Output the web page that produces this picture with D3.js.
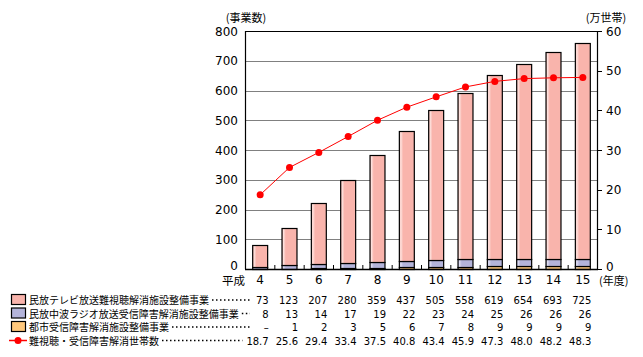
<!DOCTYPE html>
<html><head><meta charset="utf-8">
<script src="https://cdn.jsdelivr.net/npm/d3@7"></script>
<style>
body{margin:0;background:#fff;}
svg{display:block;}
text{font-family:"DejaVu Sans","Noto Sans CJK JP",sans-serif;fill:#000;}
.jp{font-family:"Noto Sans CJK JP","DejaVu Sans",sans-serif;}
</style></head>
<body>
<svg id="c" width="643" height="357"></svg>
<script>
const categories = ["4","5","6","7","8","9","10","11","12","13","14","15"];
const tvValues = [73,123,207,280,359,437,505,558,619,654,693,725];
const radioValues = [8,13,14,17,19,22,23,24,25,26,26,26];
const cityValues = [null,1,2,3,5,6,7,8,9,9,9,9];
const householdValues = [18.7,25.6,29.4,33.4,37.5,40.8,43.4,45.9,47.3,48.0,48.2,48.3];
const leftTicks = [0,100,200,300,400,500,600,700,800];
const rightTicks = [0,10,20,30,40,50,60];
const seriesNames = ["民放テレビ放送難視聴解消施設整備事業","民放中波ラジオ放送受信障害解消施設整備事業","都市受信障害解消施設整備事業","難視聴・受信障害解消世帯数"];

const svg = d3.select("#c");
const L = 245, R = 597, T = 31, B = 269;
const x = d3.scaleBand().domain(categories).range([L, R]).paddingInner(0.49).paddingOuter(0.245);
const yL = d3.scaleLinear().domain([0, 800]).range([B, T]);
const yR = d3.scaleLinear().domain([0, 60]).range([B, T]);

const colors = {tv:"#F9B4AC", radio:"#B4B4DA", city:"#FFC87C"};
const lights = {tv:"#FDE2DE", radio:"#DCDCF0", city:"#FFE6BE"};
const defs = svg.append("defs");
Object.keys(colors).forEach(k => {
  const g = defs.append("linearGradient").attr("id","g_"+k).attr("x1","0").attr("x2","1").attr("y1","0").attr("y2","0");
  g.append("stop").attr("offset","0").attr("stop-color",colors[k]);
  g.append("stop").attr("offset","0.1").attr("stop-color",lights[k]);
  g.append("stop").attr("offset","0.25").attr("stop-color",colors[k]);
  g.append("stop").attr("offset","1").attr("stop-color",colors[k]);
});

// gridlines
svg.append("g").selectAll("line").data(leftTicks.filter(d => d > 0 && d < 800)).join("line")
  .attr("x1", L).attr("x2", R).attr("y1", d => Math.round(yL(d)) + 0.5).attr("y2", d => Math.round(yL(d)) + 0.5)
  .attr("stroke", "#808080").attr("stroke-width", 1);

// bars
const rows = categories.map((c, i) => ({c, city: cityValues[i] || 0, radio: radioValues[i], tv: tvValues[i]}));
const stack = d3.stack().keys(["city","radio","tv"])(rows);
const bw = x.bandwidth();
stack.forEach(s => {
  svg.append("g").selectAll("rect").data(s).join("rect")
    .attr("x", d => x(d.data.c) + 0.5).attr("width", bw)
    .attr("y", d => Math.round(yL(d[1])) + 0.5)
    .attr("height", d => Math.max(0, Math.round(yL(d[0])) - Math.round(yL(d[1]))))
    .attr("fill", "url(#g_" + s.key + ")")
    .attr("stroke", "#000").attr("stroke-width", 1.2)
    .style("display", d => (d[1] - d[0]) > 0 ? null : "none");
});

// frame
svg.append("path").attr("d", `M${L+0.5},${B}V${T+0.5}H${R+0.5}V${B}`).attr("fill","none").attr("stroke","#000").attr("stroke-width",1.2);
svg.append("line").attr("x1", L).attr("x2", R+1).attr("y1", B+0.5).attr("y2", B+0.5).attr("stroke","#000").attr("stroke-width",1.6);

// x inner ticks
svg.append("g").selectAll("line").data(categories.slice(1)).join("line")
  .attr("x1", d => x(d) - x.step()*x.paddingInner()/2 + 0.5).attr("x2", d => x(d) - x.step()*x.paddingInner()/2 + 0.5)
  .attr("y1", B).attr("y2", B - 4).attr("stroke","#000").attr("stroke-width",1);

// left axis labels (bottom label sits slightly raised, as in the reference)
svg.append("g").selectAll("text").data(leftTicks).join("text")
  .attr("x", L - 7).attr("y", d => yL(d) + 4.5 - (d === 0 ? 4 : 0)).attr("text-anchor","end").attr("font-size", 12).text(d => d);
// right axis ticks + labels
svg.append("g").selectAll("line").data(rightTicks).join("line")
  .attr("x1", R).attr("x2", R + 5).attr("y1", d => Math.round(yR(d)) + 0.5).attr("y2", d => Math.round(yR(d)) + 0.5)
  .attr("stroke","#000");
svg.append("g").selectAll("text").data(rightTicks).join("text")
  .attr("x", R + 9).attr("y", d => yR(d) + 4.5 - (d === 0 ? 3 : 0)).attr("font-size", 12).text(d => d);

// axis titles
svg.append("text").attr("class","jp").attr("x", 246).attr("y", 22).attr("text-anchor","middle").attr("font-size", 11).text("(事業数)");
svg.append("text").attr("class","jp").attr("x", 606).attr("y", 22).attr("text-anchor","middle").attr("font-size", 11).text("(万世帯)");

// x labels
svg.append("g").selectAll("text").data(categories).join("text")
  .attr("x", d => x(d) + bw/2 + 0.5).attr("y", B + 15).attr("text-anchor","middle").attr("font-size", 12).text(d => d);
svg.append("text").attr("class","jp").attr("x", 222).attr("y", B + 15.5).attr("font-size", 11.5).text("平成");
svg.append("text").attr("class","jp").attr("x", 599).attr("y", B + 16).attr("font-size", 11).text("(年度)");

// line
const lineGen = d3.line().x((d, i) => x(categories[i]) + bw/2 + 0.5).y(d => yR(d));
svg.append("path").attr("d", lineGen(householdValues)).attr("fill","none").attr("stroke","#FF0000").attr("stroke-width",1);
svg.append("g").selectAll("circle").data(householdValues).join("circle")
  .attr("cx", (d, i) => x(categories[i]) + bw/2 + 0.5).attr("cy", d => yR(d)).attr("r", 3.5).attr("fill","#FF0000");

// legend table
const rowY = [304, 317.5, 331, 344.5];
const legendKeys = ["tv","radio","city"];
const tableVals = [tvValues, radioValues, cityValues, householdValues];
const fmt = [d => d, d => d, d => d == null ? "–" : d, d => d.toFixed(1)];
seriesNames.forEach((name, r) => {
  const yy = rowY[r];
  if (r < 3) {
    svg.append("rect").attr("x", 11.5).attr("y", yy - 9.5).attr("width", 14).attr("height", 10)
      .attr("fill", colors[legendKeys[r]]).attr("stroke","#000").attr("stroke-width",1.2);
  } else {
    svg.append("line").attr("x1", 9).attr("x2", 27).attr("y1", yy - 4).attr("y2", yy - 4).attr("stroke","#FF0000").attr("stroke-width",1.5);
    svg.append("circle").attr("cx", 18).attr("cy", yy - 4).attr("r", 3.5).attr("fill","#FF0000");
  }
  const t = svg.append("text").attr("class","jp").attr("x", 29).attr("y", yy).attr("font-size", 10).text(name);
  const end = 29 + t.node().getComputedTextLength();
  const g = svg.append("g");
  const nums = g.selectAll("text").data(tableVals[r]).join("text")
    .attr("x", (d, i) => x(categories[i]) + bw/2 + 9).attr("y", yy).attr("text-anchor","end").attr("font-size", 10)
    .text(fmt[r]);
  const firstLeft = nums.nodes()[0].getBBox().x;
  svg.append("line").attr("x1", end + 3).attr("x2", Math.min(firstLeft - 4, 250)).attr("y1", yy - 4).attr("y2", yy - 4)
    .attr("stroke","#000").attr("stroke-width",1.5).attr("stroke-dasharray","1.5,2.5");
});
</script>
</body></html>
